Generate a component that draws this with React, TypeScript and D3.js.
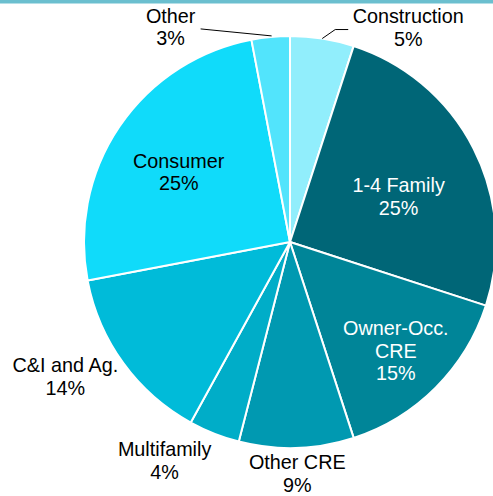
import React, { useEffect, useRef } from 'react';
import * as d3 from 'd3';

// Loan portfolio composition (%), clockwise from 12 o'clock
const categories = ['Construction', '1-4 Family', 'Owner-Occ. CRE', 'Other CRE', 'Multifamily', 'C&I and Ag.', 'Consumer', 'Other'];
const values = [5, 25, 15, 9, 4, 14, 25, 3];
const labelLines = [
  ['Construction'],
  ['1-4 Family'],
  ['Owner-Occ.', 'CRE'],
  ['Other CRE'],
  ['Multifamily'],
  ['C&I and Ag.'],
  ['Consumer'],
  ['Other'],
];
const colors = ['#91EEFC', '#006677', '#008598', '#0099B1', '#00ADC8', '#00BBD9', '#10DBFA', '#52E4FC'];
const textColors = ['#000', '#fff', '#fff', '#000', '#000', '#000', '#000', '#000'];

// label placement: radius multiple along mid-angle + small nudge
const labelRadius = [1.0, 0.57, 0.74, 1.12, 1.1, 1.12, 0.63, 1.0];
const labelNudge: [number, number][] = [[86, -11], [4, 8], [-2, 1], [0, 1], [-42, 8], [-38, -1], [-4, 3], [-100, -10]];

const App = () => {
  const svgRef = useRef<SVGSVGElement>(null);
  const width = 493;
  const height = 496;

  useEffect(() => {
    document.body.style.margin = '0';
    const svg = d3.select(svgRef.current);
    svg.selectAll('*').remove();

    const cx = 290;
    const cy = 242;
    const r = 206;

    // top accent bar
    svg.append('rect')
      .attr('x', 0).attr('y', 0)
      .attr('width', width).attr('height', 3.5)
      .attr('fill', '#6BBFCF');

    const data = categories.map((c, i) => ({ name: c, value: values[i], idx: i }));
    const pie = d3.pie<any>().sort(null).value(d => d.value);
    const arcs = pie(data);
    const arc = d3.arc<any>().innerRadius(0).outerRadius(r);

    const g = svg.append('g').attr('transform', `translate(${cx},${cy})`);

    g.selectAll('path')
      .data(arcs)
      .enter()
      .append('path')
      .attr('d', arc)
      .attr('fill', d => colors[d.data.idx])
      .attr('stroke', '#fff')
      .attr('stroke-width', 2)
      .attr('stroke-linejoin', 'round');

    const fontSize = 19.8;
    const lineH = 22.5;

    arcs.forEach(a => {
      const i = a.data.idx;
      const mid = (a.startAngle + a.endAngle) / 2;
      const k = labelRadius[i];
      const px = Math.sin(mid) * r * k;
      const py = -Math.cos(mid) * r * k;
      const lx = px + labelNudge[i][0];
      const ly = py + labelNudge[i][1];
      const lines = [...labelLines[i], `${values[i]}%`];

      const t = g.append('text')
        .attr('text-anchor', 'middle')
        .style('font-family', '"Liberation Sans", Arial, sans-serif')
        .style('font-size', `${fontSize}px`)
        .attr('fill', textColors[i]);
      lines.forEach((ln, j) => {
        t.append('tspan')
          .attr('x', lx)
          .attr('y', ly + (j - (lines.length - 1) / 2) * lineH)
          .attr('dominant-baseline', 'central')
          .text(ln);
      });

      // leader lines for the two small top slices
      if (i === 0) {
        const pts: [number, number][] = [[px, py], [px + 13, py - 9], [px + 26, py - 9]];
        g.append('path')
          .attr('d', d3.line()(pts))
          .attr('fill', 'none')
          .attr('stroke', '#000')
          .attr('stroke-width', 1);
      }
      if (i === 7) {
        const pts: [number, number][] = [[px + 1, py - 1], [px - 70, py - 8]];
        g.append('path')
          .attr('d', d3.line()(pts))
          .attr('fill', 'none')
          .attr('stroke', '#000')
          .attr('stroke-width', 1);
      }
    });
  }, []);

  return (
    <div style={{ width, height }}>
      <svg ref={svgRef} width={width} height={height} style={{ display: 'block' }} />
    </div>
  );
};

export default App;
